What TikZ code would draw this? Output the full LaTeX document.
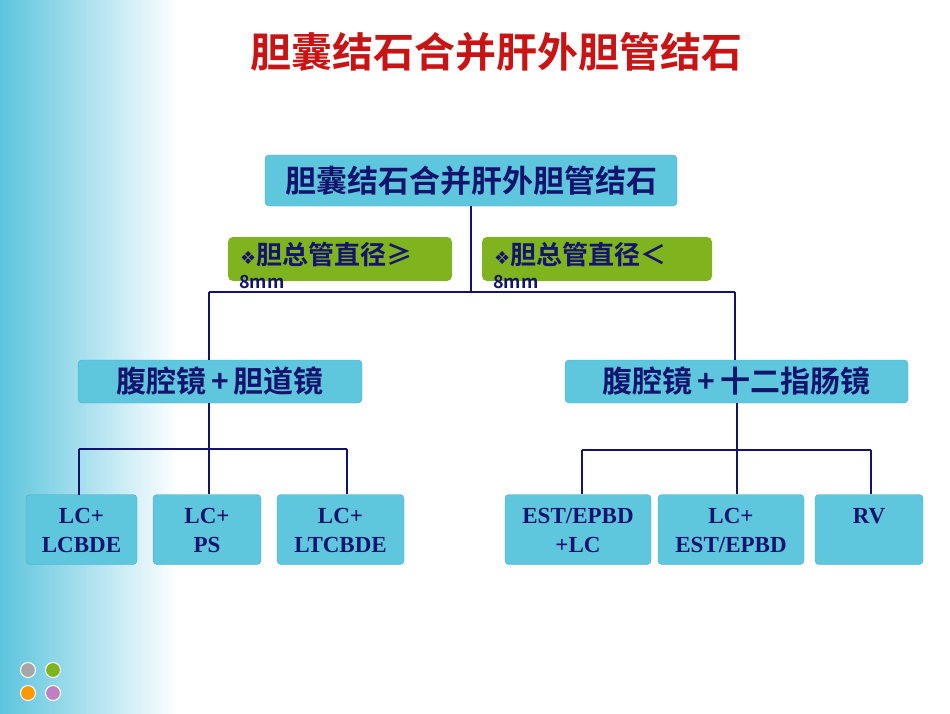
\documentclass[tikz,border=0pt]{standalone}
\usepackage{fontspec}
\setmainfont{Liberation Serif}
\newfontfamily\cjk{Noto Sans CJK SC}[BoldFont={Noto Sans CJK SC Bold}]
\newfontfamily\sym{DejaVu Sans}
\usetikzlibrary{positioning}
\definecolor{boxblue}{RGB}{94,199,222}
\definecolor{boxedge}{RGB}{70,170,200}
\definecolor{leafgreen}{RGB}{128,180,30}
\definecolor{navy}{RGB}{20,20,110}
\definecolor{titlered}{RGB}{200,20,20}
\definecolor{stripcyan}{RGB}{92,196,222}
\tikzset{
  box/.style = {draw=boxedge, fill=boxblue, rounded corners=4pt, inner sep=0pt},
  cond/.style = {fill=leafgreen, rounded corners=5pt, inner sep=0pt},
  link/.style = {draw=navy, line width=2.4pt},
  dot/.style = {circle, draw=white, line width=1pt, minimum size=15pt, inner sep=0pt},
}
\begin{document}
\begin{tikzpicture}[x=1pt, y=-1pt]
  \useasboundingbox (0,0) rectangle (950,713);
  \fill[white] (0,0) rectangle (950,713);
  \shade[left color=stripcyan, right color=white] (0,0) rectangle (178,713);

  % Title
  \node[text=titlered, font=\cjk\bfseries\fontsize{41}{44}\selectfont] (title) at (496,52) {胆囊结石合并肝外胆管结石};

  % Boxes
  \node[box, minimum width=412pt, minimum height=51pt, font=\cjk\bfseries\fontsize{31}{33}\selectfont, text=navy] (root) at (471,180.5) {胆囊结石合并肝外胆管结石};
  \node[cond, minimum width=224pt, minimum height=44pt] (bigger) at (340,259) {};
  \node[cond, minimum width=230pt, minimum height=44pt] (smaller) at (597,259) {};
  \node[box, minimum width=284pt, minimum height=43pt, font=\cjk\bfseries\fontsize{30}{32}\selectfont, text=navy] (lcbile) at (220,381.5) {腹腔镜\,+\,胆道镜};
  \node[box, minimum width=343pt, minimum height=43pt, font=\cjk\bfseries\fontsize{30}{32}\selectfont, text=navy] (lcduo) at (736.5,381.5) {腹腔镜\,+\,十二指肠镜};

  % Condition texts
  \node[anchor=west, text=navy, font=\fontsize{26}{28}\selectfont, inner sep=0pt] (gtxt) at (240,255) {{\sym\fontsize{18}{18}\selectfont ❖}{\cjk\bfseries 胆总管直径≥}};
  \node[anchor=north west, text=navy, font=\cjk\bfseries\fontsize{18}{18}\selectfont, inner sep=0pt] (gmm) at (239,275) {8mm};
  \node[anchor=west, text=navy, font=\fontsize{26}{28}\selectfont, inner sep=0pt] (ltxt) at (494,255) {{\sym\fontsize{18}{18}\selectfont ❖}{\cjk\bfseries 胆总管直径＜}};
  \node[anchor=north west, text=navy, font=\cjk\bfseries\fontsize{18}{18}\selectfont, inner sep=0pt] (lmm) at (493,275) {8mm};

  % Leaves
  \foreach \name/\xa/\xb/\txt in {l1/26/137/{LC+\\LCBDE}, l2/153/261/{LC+\\PS}, l3/277/404/{LC+\\LTCBDE},
      r1/505/651/{EST/EPBD\\+LC}, r2/658/804/{LC+\\EST/EPBD}, r3/815/923/{RV}} {
    \node[box, minimum width=\xb pt-\xa pt, minimum height=70pt] (\name) at ({(\xa+\xb)/2},529.5) {};
    \node[anchor=north, align=center, text=navy, font=\bfseries\fontsize{23}{29}\selectfont, inner sep=0pt] (\name t) at ([yshift=-14pt]\name.north) {\txt};
  }

  % Connectors
  \coordinate (split) at (471,292);
  \coordinate (splitl) at (209,292);
  \coordinate (splitr) at (735,292);
  \path[link] (root) -- (split);
  \path[link] (splitl) -- (splitr);
  \path[link] (splitl) -- (splitl |- lcbile.north);
  \path[link] (splitr) -- (lcduo.north -| splitr);

  \coordinate (lj) at (209,449);
  \coordinate (rj) at (737,450);
  \path[link] (lcbile.south -| lj) -- (lj);
  \path[link] (79,449) -- (347,449);
  \path[link] (79,449) -- (79,495);
  \path[link] (lj) -- (l2.north -| lj);
  \path[link] (347,449) -- (347,494);
  \path[link] (lcduo.south -| rj) -- (rj);
  \path[link] (582,450) -- (871,450);
  \path[link] (582,450) -- (582,494);
  \path[link] (rj) -- (r2.north -| rj);
  \path[link] (871,450) -- (871,494);

  % Corner dots
  \node[dot, fill=gray!70] (d1) at (28,670) {};
  \node[dot, fill=leafgreen] (d2) at (53,670) {};
  \node[dot, fill=orange!80!yellow] (d3) at (28,693) {};
  \node[dot, fill=violet!50] (d4) at (53,693) {};
\end{tikzpicture}
\end{document}
